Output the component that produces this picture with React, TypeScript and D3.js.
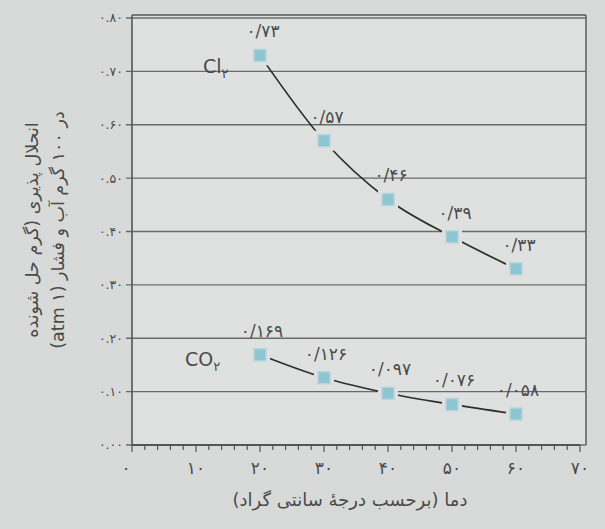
import React from "react";
import * as d3 from "d3";

const temps = [20, 30, 40, 50, 60];
const cl2Values = [0.73, 0.57, 0.46, 0.39, 0.33];
const co2Values = [0.169, 0.126, 0.097, 0.076, 0.058];
const cl2Labels = ["۰/۷۳", "۰/۵۷", "۰/۴۶", "۰/۳۹", "۰/۳۳"];
const co2Labels = ["۰/۱۶۹", "۰/۱۲۶", "۰/۰۹۷", "۰/۰۷۶", "۰/۰۵۸"];
const yTicks = [0, 0.1, 0.2, 0.3, 0.4, 0.5, 0.6, 0.7, 0.8];
const yTickLabels = ["۰.۰۰", "۰.۱۰", "۰.۲۰", "۰.۳۰", "۰.۴۰", "۰.۵۰", "۰.۶۰", "۰.۷۰", "۰.۸۰"];
const xTicks = [0, 10, 20, 30, 40, 50, 60, 70];
const xTickLabels = ["۰", "۱۰", "۲۰", "۳۰", "۴۰", "۵۰", "۶۰", "۷۰"];
const yTitle1 = "انحلال پذیری (گرم حل شونده";
const yTitle2 = "در ۱۰۰ گرم آب و فشار (۱ atm)";
const xTitle = "دما (برحسب درجهٔ سانتی گراد)";

const W = 605, H = 529;
const left = 132, right = 580, top = 15, bottom = 445;
const BG = "#d8dad9";
const PLOT_BG = "#dfe1e0";
const INK = "#4a4a4a";
const FONT = "DejaVu Sans, sans-serif";

export default function App() {
  const x = d3.scaleLinear().domain([0, 70]).range([left, right]);
  const y = d3.scaleLinear().domain([0, 0.8]).range([bottom, 18]);
  const line = d3
    .line<[number, number]>()
    .x((d) => x(d[0]))
    .y((d) => y(d[1]))
    .curve(d3.curveMonotoneX);
  const cl2 = temps.map((t, i) => [t, cl2Values[i]] as [number, number]);
  const co2 = temps.map((t, i) => [t, co2Values[i]] as [number, number]);
  const minor = d3.range(0, 71, 2);
  const boxRight = right + 6;

  return (
    <svg width={W} height={H} style={{ position: "absolute", left: 0, top: 0, background: BG }}>
      <rect x={0} y={0} width={W} height={H} fill={BG} />
      <rect x={left} y={top} width={boxRight - left} height={bottom - top} fill={PLOT_BG} />
      {/* grid lines */}
      {yTicks.map((t) => (
        <line key={"g" + t} x1={left - 6} x2={boxRight} y1={y(t)} y2={y(t)} stroke="#6a6a6a" strokeWidth={1.3} />
      ))}
      {/* frame */}
      <line x1={left} x2={left} y1={top} y2={bottom} stroke="#555" strokeWidth={1.6} />
      <line x1={left} x2={boxRight} y1={top} y2={top} stroke="#555" strokeWidth={1.4} />
      <line x1={boxRight} x2={boxRight} y1={top} y2={bottom} stroke="#555" strokeWidth={1.4} />
      <line x1={left} x2={right} y1={bottom} y2={bottom} stroke="#555" strokeWidth={1.8} />
      {/* x minor ticks */}
      {minor.map((t) => (
        <line key={"m" + t} x1={x(t)} x2={x(t)} y1={bottom} y2={bottom + (t % 10 === 0 ? 7 : 5)} stroke="#555" strokeWidth={1.2} />
      ))}
      {/* y tick labels */}
      {yTicks.map((t, i) => (
        <text key={"yl" + t} x={left - 9} y={y(t)} dy="0.35em" textAnchor="end" fontSize={12.5} fill={INK} fontFamily={FONT}>
          {yTickLabels[i]}
        </text>
      ))}
      {/* x tick labels */}
      {xTicks.map((t, i) => (
        <text key={"xl" + t} x={x(t) - (t === 0 ? 6 : 0)} y={474} textAnchor="middle" fontSize={17} fill={INK} fontFamily={FONT}>
          {xTickLabels[i]}
        </text>
      ))}
      {/* axis titles */}
      <text x={350} y={506} textAnchor="middle" fontSize={18} fill={INK} fontFamily={FONT} direction="rtl">
        {xTitle}
      </text>
      <text transform="translate(38,230) rotate(-90)" textAnchor="middle" fontSize={17.5} fill={INK} fontFamily={FONT} direction="rtl">
        {yTitle1}
      </text>
      <text transform="translate(64,230) rotate(-90)" textAnchor="middle" fontSize={17.5} fill={INK} fontFamily={FONT} direction="rtl">
        {yTitle2}
      </text>
      {/* series lines */}
      <path d={line(cl2) || ""} fill="none" stroke="#2e2e2e" strokeWidth={1.7} />
      <path d={line(co2) || ""} fill="none" stroke="#2e2e2e" strokeWidth={1.7} />
      {/* markers */}
      {[...cl2, ...co2].map((d, i) => (
        <rect key={"p" + i} x={x(d[0]) - 6} y={y(d[1]) - 6} width={12} height={12} fill="#8fc4d1" stroke={PLOT_BG} strokeWidth={8} paintOrder="stroke" />
      ))}
      {[...cl2, ...co2].map((d, i) => (
        <rect key={"q" + i} x={x(d[0]) - 6} y={y(d[1]) - 6} width={12} height={12} fill="#8fc4d1" stroke="#b3d6de" strokeWidth={1.5} />
      ))}
      {/* value labels */}
      {cl2.map((d, i) => (
        <text key={"cl" + i} x={x(d[0]) + 3} y={y(d[1]) - 18} textAnchor="middle" fontSize={17} fill={INK} fontFamily={FONT}>
          {cl2Labels[i]}
        </text>
      ))}
      {co2.map((d, i) => (
        <text key={"co" + i} x={x(d[0]) + 2} y={y(d[1]) - 18} textAnchor="middle" fontSize={17} fill={INK} fontFamily={FONT}>
          {co2Labels[i]}
        </text>
      ))}
      {/* series names */}
      <text x={203} y={73} fontSize={19} fill={INK} fontFamily={FONT}>
        Cl<tspan fontSize={13} dy={5}>۲</tspan>
      </text>
      <text x={185} y={366} fontSize={19} fill={INK} fontFamily={FONT}>
        CO<tspan fontSize={13} dy={5}>۲</tspan>
      </text>
    </svg>
  );
}
